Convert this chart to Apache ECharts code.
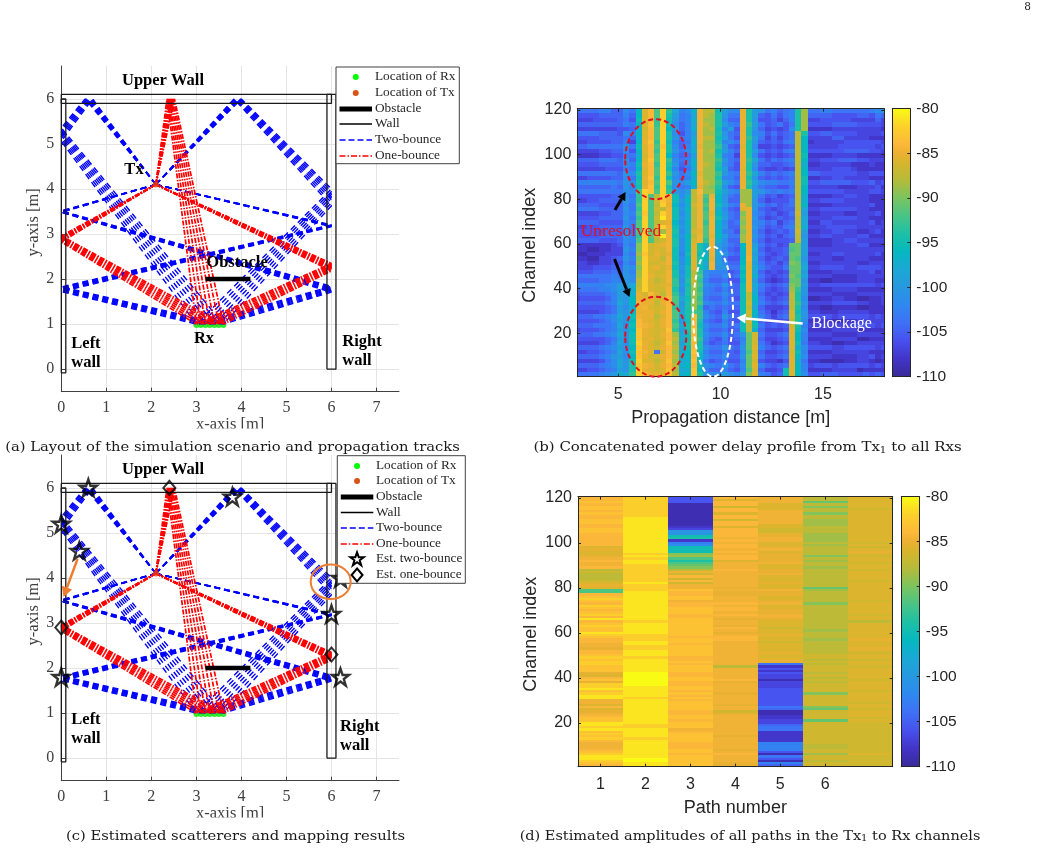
<!DOCTYPE html>
<html>
<head>
<meta charset="utf-8">
<title>Radio map of an indoor scenario</title>
<script src="https://cdn.jsdelivr.net/npm/echarts@6/dist/echarts.min.js"></script>
<style>html,body{margin:0;padding:0;background:#fff}#chart{width:1038px;height:852px}</style>
</head>
<body>
<div id="chart"></div>
<script>
// ---- Room geometry (metres) ----
const txPoint = [2.1, 4.1];
const rxX = [3.0, 3.1, 3.2, 3.3, 3.4, 3.5, 3.6];
const rxY = 1.0;
const upperWall = [[0, 5.9], [6, 5.9], [6, 6.1], [0, 6.1], [0, 5.9]];
const leftWall = [[0, 6], [0.1, 6], [0.1, -0.08], [0, -0.08], [0, 6]];
const rightWall = [[5.9, 0], [6.1, 0], [6.1, 6.1], [5.9, 6.1], [5.9, 0]];
const obstacle = [[3.2, 2], [4.2, 2]];

// ---- Reflection points for each Rx position ----
const oneBounceLeftY = [2.824, 2.848, 2.872, 2.894, 2.916, 2.938, 2.958];
const oneBounceRightY = [2.348, 2.322, 2.296, 2.268, 2.240, 2.211, 2.181];
const oneBounceTopX = [2.348, 2.375, 2.403, 2.430, 2.458, 2.486, 2.513];
const leftRightFirstY = [3.514, 3.508, 3.503, 3.497, 3.492, 3.486, 3.480];
const leftRightSecondY = [1.838, 1.817, 1.796, 1.775, 1.753, 1.731, 1.709];
const rightLeftFirstY = [3.163, 3.170, 3.177, 3.184, 3.190, 3.196, 3.204];
const rightLeftSecondY = [1.721, 1.739, 1.757, 1.775, 1.792, 1.810, 1.827];
const topLeftFirstX = [0.695, 0.668, 0.640, 0.613, 0.585, 0.558, 0.530];
const topLeftSecondY = [5.059, 5.113, 5.166, 5.217, 5.265, 5.312, 5.358];
const topRightFirstX = [4.000, 3.973, 3.945, 3.918, 3.890, 3.863, 3.835];
const topRightSecondY = [4.000, 3.943, 3.884, 3.823, 3.760, 3.695, 3.629];

// ---- Estimated scatterers ----
const estTwoBounce = [[0.6, 6], [3.8, 5.8], [0, 5.2], [0.4, 4.6], [6.2, 4.0], [6, 3.2], [0, 1.8], [6.2, 1.8]];
const estOneBounce = [[2.4, 6], [0, 2.9], [6, 2.3]];

// ---- Power levels: one character per cell, base 36, 0 = -110 dB ... u = -80 dB ----
// Power delay profile, top line = channels 120/119, columns 3 m to 18 m every 0.3 m.
const pdpLevelRows = [
"6666775586 dnqhsgb78cplle a88ofa967567fk 6677666666789",
"4444555575 dnqhsfa67bplkf 966ofa546467fk 5555444455465",
"3334444564 enqgse967cpkkf 855of9445357fk 3344444333353",
"5555555576 dnrgse857bplkf a76oga645646fk 4444555544443",
"3333333445 cmqhsd957cpkle 7a4of9534348fk 2222333333332",
"6666555487 dnqhsf847apkkf 965of8746456lf 4455444433334",
"4444555565 cnqhsf967bplle a64oga635356ld 3333553333222",
"3344445573 dorgse756cpkkf 786of9545467ld 2333334444443",
"5566666696 enqhrf857bokkg 954nf8334345ld 3333344444434",
"3333445584 dnqgsf968cpkle a75ofa645467ld 4444445555443",
"2222334476 cmqhsd756apkkf 763of8434345le 2222333322222",
"5555666595 dnrhsg867cpkkg 965ogb646567ld 3344455544333",
"4444555587 eoqgsf957cplkf 864of9554456lc 2233333222322",
"3333344476 dnqhse746bpkke a54nf8433434ld 3333444322222",
"6666666598 fnqhsg968dokkg 976ogb756567ld 5544444433444",
"3344445586 eorgse867cpkkf 775of9545456le 2233443333222",
"7777777698 fnqhsh98adplkg a86ogb877667le 4455555444534",
"5555556597 eorgsf867cokjf 854of9655446ld 3333322233342",
"6666666688 hsrhsg98alqkke a87kka976767ld 4444443333443",
"4444445586 gshlspe8clphod 965kka645345lc 2222334433222",
"3344555597 gshmrpe9dlpgpd 955kk9534446lc 3344443333222",
"5555444586 hshlsod8cmphpe a76ok9756456ld 2222333333422",
"6666555596 gshmlpe9dlpgpc 854no9543455lb 3344444433222",
"3333445587 hrhlspe8clphod 965jo8645346ma 2233332233342",
"4444555596 gshmtpe9clphpe a65ko9534545lb 3333444433222",
"5555444487 hshlnod8dlpgpd 856jo8756356lb 2244333333423",
"3344555596 hshmspe9clphpc 955ko9645467lc 3334444433333",
"4444455586 hrilkpf8cmohpd 764jo8534546ma 2233443322342",
"4444555597 gsimtpe9dlphod a66ko9645356l9 3344333344222",
"5555444587 hshlmpf8dmpgpc 855ko8534445la 2222334433333",
"2222223486 jsmnopf8dnfcpa 865doa64534iia 2222333344222",
"2211223397 jsmnmpe8dnfcpa 754dob53445hia 3333333333333",
"1122233386 krmomoe7enecpb 965coa64345iia 2233443333342",
"2211334597 jsnnlpe8dnfdoa 644dpb53454ih9 3333223333222",
"3322334486 ksmmnpf8dnfbpa 855doa64535jia 2233333322333",
"3334445598 jsnomoe9enecp9 966enb75446iib 3344443344443",
"4445556597 ksnmmpf8elg877 745dob53434iia 2222333333423",
"6666667698 ksomnpf9elh866 856eoc64345jhb 3333222233333",
"5555667798 lsnlmpg8fmg755 644doa53234ii9 2211222233322",
"7777788a9b lsnmnog9elh876 965eob75456jia 3344444444434",
"5666778a9c msnmmpf8fkg765 755eob64345kg9 2222333322222",
"4555567a9c omqnlpg9fkh766 865elc53434lf9 3333222233333",
"3444457a9d onomnqhbekg655 754eld64345lf8 1122332211223",
"5555567b9d pooloqh9fkh876 866emc75456lg9 3333444433223",
"4444456a8c opnmnqgafkf565 655elb53334lf8 2211222211222",
"3333456a9d ooomoqhbfhg754 744emd64245me9 3322233333222",
"5556678b9e poolnqhafqg865 965elc75356mf9 4444344444343",
"4444568a9d qonmoqg9eqf654 754emd53434lf8 2222112233333",
"5556667b8e qpomoqhbfqe866 856ele64545mf7 3333333344434",
"3444567a9d ronmnrgafrf755 645elc53334ne8 2222333312222",
"5556678b9e ronmoqkbeqf866 8569im64456nd7 3333222233333",
"4444456a9e rnomnqlcerg754 7457im53345nd7 2222333311222",
"3333457b8e sonlnrkafqf645 6448im64234ne6 3322112233333",
"5555678a9d ronmoqlbeqf866 9659in75456nc8 4444334444434",
"3344567b8e rpn6mqkcdre755 7548hm53345me7 2222333333222",
"5555679a8d rommoqlcdqd866 8559in64456nd8 3333222233423",
"3333468b9e snnlnrkbcrd645 6447im43324nc6 2211112233212",
"5555678b9f rpomoqlcdqe876 9658in75456nd7 3444344444343",
"3344567a9f sonmnrkbcrd755 7547hm5334end7 2222333312222",
"6666789cbg sqoonrlcdrf988 a879jn7645end8 4455544445454"
];
const pdpFirstDistance = 3;
const pdpDistanceStep = 0.3;

// Estimated path amplitudes, top to bottom = channel 120 to channel 1.
const path1Levels = "qqrqrrqrqq rrqqrrqqqq qqnonnopqp pqlmlllmno nhhqrsrqsr qrsqtqrsrr tsrqqppoqq rsrssrrron qrosstrstt ppnqnopqrr ttstrsrsqp ppqrsttsrq";
const path2Levels = "ssssssssst tttttttttt tttttststt ssssssssts sstttttttt tttttstttt tsssttsstt tsttttttuu uuuuttttts tttttttttt tssttttstt ttttttuutt";
const path3Levels = "4441111111 1112399ef2 78eeejkhfh ijlpmqmqmp prqqrrpqqr rrqqrrrrrr rrqrrqrrrr rqqrqrrrqq rrqqrrqrqr qrrrrqqrrq rrrpqrrrrq qqrrqrrrrr";
const path4Levels = "qnqqmqqnqq mqqnqqqqpq pqqpqpqqnp ppqppppppp opoopppqpq qpqpoppoqp opqqpppppp ppppplpppp pqoppppopp ppoppmoppp ppppppoppp ppopqpppoo";
const path5Levels = "pppnnnpppp ppnnmmoopp nnopnoooop nnoopnnnon npoonnopnn oopponnnmn nonnmnnnno nnoo624243 3133344444 4446511223 3566222227 7774164175";
const path6Levels = "lliljlljll kkklllkkkk lklllljlkl lkllllllll ikllllljll lllllllllk lllkllllll mmlmlmmmlm lmlmmmmjmm mmmjimmmmi mmmmmmmmmm llmmkmmlmm";
const path7Levels = "nnnnnmnnnn nnnnnnnnnn mnmnonmnnm nnmnnnnmnn nnnnnnmnnn nnmnnlnnnn nnnonnnonm nnmnnmnnnn nmnnnnmnnn nmnnmnnnmn mmmmmmmmmm mmmmnmmmmm";
const pathLevelColumns = [path1Levels, path2Levels, path3Levels, path4Levels, path5Levels, path6Levels, path7Levels];

// ---- Colour scale and fonts ----
const parulaStops = [
  [0, '#3a2a98'], [0.067, '#4234c8'], [0.133, '#4850ee'], [0.2, '#3f70f6'], [0.267, '#2f88f0'],
  [0.333, '#2798e0'], [0.4, '#1ba8d5'], [0.467, '#05b8c0'], [0.533, '#1cc0a6'], [0.6, '#49c487'],
  [0.667, '#7ac45f'], [0.733, '#b5bb3a'], [0.8, '#d8b52c'], [0.833, '#ecb032'], [0.867, '#fcb83a'],
  [0.933, '#fcd02a'], [1, '#f9fb15']
];
const serif = '"Liberation Serif"';
const sans = '"Liberation Sans"';
const captionFont = '"DejaVu Serif"';

const toDb = ch => parseInt(ch, 36) - 110;
const pdpCells = [];
pdpLevelRows.forEach((line, j) => {
  line.replace(/ /g, '').split('').forEach((ch, k) => {
    pdpCells.push([pdpFirstDistance + k * pdpDistanceStep, 119.5 - 2 * j, toDb(ch)]);
  });
});
const pathCells = [];
pathLevelColumns.forEach((column, c) => {
  column.replace(/ /g, '').split('').forEach((ch, i) => {
    pathCells.push([c + 1, 120 - i, toDb(ch)]);
  });
});

const cellRenderer = (halfW, halfH) => (params, api) => {
  const x = api.value(0), y = api.value(1);
  const a = api.coord([x - halfW, y + halfH]);
  const b = api.coord([x + halfW, y - halfH]);
  const cs = params.coordSys;
  const left = Math.max(Math.round(a[0]), cs.x), right = Math.min(Math.round(b[0]), cs.x + cs.width);
  const top = Math.max(Math.round(a[1]), cs.y), bottom = Math.min(Math.round(b[1]), cs.y + cs.height);
  return {
    type: 'rect',
    shape: { x: left, y: top, width: right - left, height: bottom - top },
    style: { fill: api.visual('color') }
  };
};
const colorBarRenderer = (params, api) => {
  const top = api.coord([0, -80]), bottom = api.coord([1, -110]);
  return {
    type: 'rect',
    shape: { x: top[0], y: top[1], width: bottom[0] - top[0], height: bottom[1] - top[1] },
    style: {
      fill: new echarts.graphic.LinearGradient(0, 1, 0, 0,
        parulaStops.map(s => ({ offset: s[0], color: s[1] })))
    }
  };
};

const grids = [], xAxes = [], yAxes = [], series = [], graphics = [];

// ---- Floor-plan panels ----
function addPlanPanel(top, bottom, yExtentMax) {
  const g = grids.length;
  grids.push({ left: 61.3, width: 337.7, top, height: bottom - top });
  const labelStyle = { color: '#404040', fontFamily: serif, fontSize: 16 };
  const line = { show: true, onZero: false, lineStyle: { color: '#404040', width: 1 } };
  const split = { show: true, lineStyle: { color: '#e4e4e4', width: 1 } };
  const xTicks = [0, 1, 2, 3, 4, 5, 6, 7], yTicks = [0, 1, 2, 3, 4, 5, 6];
  const xi = xAxes.length, yi = yAxes.length;
  xAxes.push({
    gridIndex: g, type: 'value', min: 0, max: 7.5, position: 'bottom',
    name: 'x-axis [m]', nameLocation: 'middle', nameGap: 23,
    nameTextStyle: { color: '#404040', fontFamily: serif, fontSize: 16.5 },
    axisLine: line, splitLine: split,
    axisTick: { show: true, inside: true, length: 4, customValues: xTicks, lineStyle: { color: '#404040' } },
    axisLabel: Object.assign({ customValues: xTicks, margin: 8 }, labelStyle)
  });
  yAxes.push({
    gridIndex: g, type: 'value', min: -0.5, max: yExtentMax, position: 'left',
    name: 'y-axis [m]', nameLocation: 'middle', nameGap: 16,
    nameTextStyle: { color: '#404040', fontFamily: serif, fontSize: 16.5, padding: [0, 0, 0, 13] },
    axisLine: line, splitLine: split,
    axisTick: { show: true, inside: true, length: 4, customValues: yTicks, lineStyle: { color: '#404040' } },
    axisLabel: Object.assign({ customValues: yTicks, margin: 7 }, labelStyle)
  });
  return { xi, yi };
}

function addPlanSeries(ax) {
  const base = { xAxisIndex: ax.xi, yAxisIndex: ax.yi, animation: false, silent: true };
  const path = (pts, kind) => series.push(Object.assign({
    type: 'line', data: pts, showSymbol: false, symbol: 'none', z: kind === 'one' ? 4 : 3,
    lineStyle: kind === 'one'
      ? { color: '#ff0000', width: 1.7, type: [5, 1.5, 1.5, 1.5] }
      : { color: '#0000ff', width: 1.4, type: [6, 4] }
  }, base));
  rxX.forEach((x, i) => {
    const rx = [x, rxY];
    path([txPoint, [topLeftFirstX[i], 6], [0, topLeftSecondY[i]], rx], 'two');
    path([txPoint, [topRightFirstX[i], 6], [6, topRightSecondY[i]], rx], 'two');
    path([txPoint, [0, leftRightFirstY[i]], [6, leftRightSecondY[i]], rx], 'two');
    path([txPoint, [6, rightLeftFirstY[i]], [0, rightLeftSecondY[i]], rx], 'two');
  });
  rxX.forEach((x, i) => {
    const rx = [x, rxY];
    path([txPoint, [0, oneBounceLeftY[i]], rx], 'one');
    path([txPoint, [6, oneBounceRightY[i]], rx], 'one');
    path([txPoint, [oneBounceTopX[i], 6], rx], 'one');
  });
  [upperWall, leftWall, rightWall].forEach(w => series.push(Object.assign({
    type: 'line', data: w, showSymbol: false, symbol: 'none', z: 5,
    lineStyle: { color: '#1a1a1a', width: 1.3 }
  }, base)));
  series.push(Object.assign({
    type: 'line', data: obstacle, showSymbol: false, symbol: 'none', z: 5,
    lineStyle: { color: '#000', width: 4.5, cap: 'butt' }
  }, base));
  series.push(Object.assign({
    type: 'scatter', data: rxX.map(x => [x, rxY - 0.02]), symbol: 'circle', symbolSize: 6, z: 2,
    itemStyle: { color: '#00e600' }
  }, base));
  series.push(Object.assign({
    type: 'scatter', data: [txPoint], symbol: 'circle', symbolSize: 6, z: 6,
    itemStyle: { color: '#e03c14' }
  }, base));
  return base;
}

const STAR_PATH = 'path://M50 2 L62 37 L98 37 L69 59 L80 95 L50 73 L20 95 L31 59 L2 37 L38 37 Z';

const panelA = addPlanPanel(66, 391.7, 6.73);
addPlanSeries(panelA);
const panelC = addPlanPanel(455, 780.7, 6.73);
const baseC = addPlanSeries(panelC);
series.push(Object.assign({
  type: 'scatter', data: estTwoBounce, symbol: STAR_PATH, symbolSize: 17, z: 7,
  itemStyle: { color: 'rgba(0,0,0,0)', borderColor: '#000', borderWidth: 2.4 }
}, baseC));
series.push(Object.assign({
  type: 'scatter', data: estOneBounce, symbol: 'diamond', symbolSize: [12, 14], z: 7,
  itemStyle: { color: 'rgba(0,0,0,0)', borderColor: '#000', borderWidth: 2 }
}, baseC));

// ---- Heat-map panels with their colour bars ----
function framedAxes(g, xr, yr, xTicks, yTicks, xName, yName, nameGaps) {
  const inkLine = { show: true, onZero: false, lineStyle: { color: '#262626', width: 1 } };
  const tick = (vals, len) => ({ show: true, inside: true, length: len, customValues: vals, lineStyle: { color: '#262626' } });
  const text = { color: '#262626', fontFamily: sans, fontSize: 16 };
  const xi = xAxes.length, yi = yAxes.length;
  xAxes.push({
    gridIndex: g, type: 'value', min: xr[0], max: xr[1], position: 'bottom', z: 10,
    name: xName, nameLocation: 'middle', nameGap: nameGaps[0],
    nameTextStyle: { color: '#262626', fontFamily: sans, fontSize: 18 },
    axisLine: inkLine, axisTick: tick(xTicks, 3), splitLine: { show: false },
    axisLabel: Object.assign({ customValues: xTicks, margin: 10 }, text)
  });
  xAxes.push({
    gridIndex: g, type: 'value', min: xr[0], max: xr[1], position: 'top', z: 10,
    axisLine: inkLine, axisTick: tick(xTicks, 3), splitLine: { show: false }, axisLabel: { show: false }
  });
  yAxes.push({
    gridIndex: g, type: 'value', min: yr[0], max: yr[1], position: 'left', z: 10,
    name: yName, nameLocation: 'middle', nameGap: nameGaps[1],
    nameTextStyle: { color: '#262626', fontFamily: sans, fontSize: 18, padding: [0, 5, 0, 0] },
    axisLine: inkLine, axisTick: tick(yTicks, 3), splitLine: { show: false },
    axisLabel: Object.assign({ customValues: yTicks, margin: 6 }, text)
  });
  yAxes.push({
    gridIndex: g, type: 'value', min: yr[0], max: yr[1], position: 'right', z: 10,
    axisLine: inkLine, axisTick: tick(yTicks, 3), splitLine: { show: false }, axisLabel: { show: false }
  });
  return { xi, yi };
}

function addColorBar(left, width, top, height) {
  const g = grids.length;
  grids.push({ left, width, top, height });
  const inkLine = { show: true, onZero: false, lineStyle: { color: '#262626', width: 1 } };
  const xi = xAxes.length, yi = yAxes.length;
  xAxes.push({
    gridIndex: g, type: 'value', min: 0, max: 1, position: 'bottom', z: 10,
    axisLine: inkLine, axisTick: { show: false }, axisLabel: { show: false }, splitLine: { show: false }
  });
  xAxes.push({
    gridIndex: g, type: 'value', min: 0, max: 1, position: 'top', z: 10,
    axisLine: inkLine, axisTick: { show: false }, axisLabel: { show: false }, splitLine: { show: false }
  });
  yAxes.push({
    gridIndex: g, type: 'value', min: -110, max: -80, interval: 5, position: 'right', z: 10,
    axisLine: inkLine, splitLine: { show: false },
    axisTick: { show: true, inside: true, length: 3, lineStyle: { color: '#262626' } },
    axisLabel: { color: '#262626', fontFamily: sans, fontSize: 15.5, margin: 6 }
  });
  yAxes.push({
    gridIndex: g, type: 'value', min: -110, max: -80, interval: 5, position: 'left', z: 10,
    axisLine: inkLine, splitLine: { show: false },
    axisTick: { show: false },
    axisLabel: { show: false }
  });
  series.push({
    type: 'custom', xAxisIndex: xi, yAxisIndex: yi, data: [[0, -110]], animation: false, silent: true,
    renderItem: colorBarRenderer, encode: { x: 0, y: 1 }
  });
}

const heatSeries = [];
grids.push({ left: 577.3, width: 307, top: 108.7, height: 268 });
const axB = framedAxes(grids.length - 1, [3, 18], [0.5, 120.5], [5, 10, 15], [20, 40, 60, 80, 100, 120],
  'Propagation distance [m]', 'Channel index', [32, 38]);
heatSeries.push(series.length);
series.push({
  type: 'custom', xAxisIndex: axB.xi, yAxisIndex: axB.yi, data: pdpCells, animation: false, silent: true,
  renderItem: cellRenderer(pdpDistanceStep / 2, 1), encode: { x: 0, y: 1 }, z: 2
});
addColorBar(892.3, 18, 108.7, 268);

grids.push({ left: 578, width: 314.7, top: 496.7, height: 270 });
const axD = framedAxes(grids.length - 1, [0.5, 7.5], [0.5, 120.5], [1, 2, 3, 4, 5, 6], [20, 40, 60, 80, 100, 120],
  'Path number', 'Channel index', [32, 38]);
heatSeries.push(series.length);
series.push({
  type: 'custom', xAxisIndex: axD.xi, yAxisIndex: axD.yi, data: pathCells, animation: false, silent: true,
  renderItem: cellRenderer(0.5, 0.5), encode: { x: 0, y: 1 }, z: 2
});
addColorBar(901.3, 18.4, 496.7, 270);

// ---- Drawing helpers for annotations, keys and captions ----
const G_Z = 60;
function label(text, x, y, font, fill, extra, scaleX) {
  graphics.push({
    type: 'text', x, y, z: G_Z + 3, silent: true, scaleX: scaleX || 1,
    style: Object.assign({ text, font, fill: fill || '#000', align: 'center', verticalAlign: 'middle' }, extra || {})
  });
}
function ellipse(cx, cy, rx, ry, stroke, dash) {
  graphics.push({
    type: 'ellipse', z: G_Z + 1, silent: true, shape: { cx, cy, rx, ry },
    style: { fill: 'none', stroke, lineWidth: 2, lineDash: dash || null }
  });
}
function arrow(x1, y1, x2, y2, color, width, head) {
  const len = Math.hypot(x2 - x1, y2 - y1), ux = (x2 - x1) / len, uy = (y2 - y1) / len;
  const bx = x2 - ux * head, by = y2 - uy * head, nx = -uy * head * 0.55, ny = ux * head * 0.55;
  graphics.push({
    type: 'line', z: G_Z + 1, silent: true, shape: { x1, y1, x2: bx, y2: by },
    style: { stroke: color, lineWidth: width }
  });
  graphics.push({
    type: 'polygon', z: G_Z + 1, silent: true,
    shape: { points: [[x2, y2], [bx + nx, by + ny], [bx - nx, by - ny]] }, style: { fill: color }
  });
}

const boldLabel = 'bold 16.5px ' + serif;
const leftAlign = { align: 'left' };
function wallLabels(yUpper, xLeft, yLeft, xRight, yRight) {
  label('Upper Wall', 163, yUpper, boldLabel);
  label('Left', xLeft, yLeft, boldLabel, '#000', leftAlign);
  label('wall', xLeft, yLeft + 19.3, boldLabel, '#000', leftAlign);
  label('Right', xRight, yRight, boldLabel, '#000', leftAlign);
  label('wall', xRight, yRight + 19, boldLabel, '#000', leftAlign);
}
wallLabels(81, 71.3, 343.7, 342.3, 342);
label('Tx', 134, 170, boldLabel);
label('Obstacle', 237, 262.5, boldLabel);
label('Rx', 204, 339, boldLabel);
wallLabels(470, 71.3, 719.3, 340, 726.7);

function planKey(left, top, right, bottom, textX, rows) {
  graphics.push({
    type: 'rect', z: G_Z, silent: true,
    shape: { x: left, y: top, width: right - left, height: bottom - top },
    style: { fill: '#fff', stroke: '#404040', lineWidth: 1 }
  });
  const keyFont = '13.3px ' + serif;
  const x0 = left + 3.5, x1 = left + 36, xm = (x0 + x1) / 2;
  rows.forEach(([name, y, kind]) => {
    graphics.push({
      type: 'text', x: textX, y, z: G_Z + 2, silent: true,
      style: { text: name, font: keyFont, fill: '#262626', align: 'left', verticalAlign: 'middle' }
    });
    const lineKey = (stroke, lineWidth, lineDash) => graphics.push({
      type: 'line', z: G_Z + 2, silent: true, shape: { x1: x0, y1: y, x2: x1, y2: y },
      style: { stroke, lineWidth, lineDash: lineDash || null }
    });
    if (kind === 'rx' || kind === 'tx') {
      graphics.push({
        type: 'circle', z: G_Z + 2, silent: true, shape: { cx: xm, cy: y, r: 3 },
        style: { fill: kind === 'rx' ? '#00ff00' : '#d95319' }
      });
    } else if (kind === 'obstacle') lineKey('#000', 5);
    else if (kind === 'wall') lineKey('#000', 1.3);
    else if (kind === 'two') lineKey('#0000ff', 1.3, [6, 3]);
    else if (kind === 'one') lineKey('#ff0000', 1.3, [6, 2, 1.5, 2]);
    else if (kind === 'star') {
      const s = 0.14, tl = [xm - 50 * s, y - 50 * s];
      const pts = [[50, 2], [62, 37], [98, 37], [69, 59], [80, 95], [50, 73], [20, 95], [31, 59], [2, 37], [38, 37]];
      graphics.push({
        type: 'polygon', z: G_Z + 2, silent: true,
        shape: { points: pts.map(p => [tl[0] + p[0] * s, tl[1] + p[1] * s]) },
        style: { fill: 'none', stroke: '#000', lineWidth: 2 }
      });
    } else if (kind === 'diamond') {
      graphics.push({
        type: 'polygon', z: G_Z + 2, silent: true,
        shape: { points: [[xm, y - 6.5], [xm + 5.5, y], [xm, y + 6.5], [xm - 5.5, y]] },
        style: { fill: 'none', stroke: '#000', lineWidth: 2 }
      });
    }
  });
}
planKey(336, 67, 459.3, 163.7, 375, [
  ['Location of Rx', 77, 'rx'], ['Location of Tx', 93, 'tx'], ['Obstacle', 109, 'obstacle'],
  ['Wall', 124, 'wall'], ['Two-bounce', 140, 'two'], ['One-bounce', 156, 'one']
]);
planKey(337.3, 455.7, 465.3, 583.3, 376, [
  ['Location of Rx', 466, 'rx'], ['Location of Tx', 481, 'tx'], ['Obstacle', 497, 'obstacle'],
  ['Wall', 512.5, 'wall'], ['Two-bounce', 528, 'two'], ['One-bounce', 544, 'one'],
  ['Est. two-bounce', 559, 'star'], ['Est. one-bounce', 575, 'diamond']
]);

// Orange call-outs on the estimated map
arrow(77.5, 559, 63.5, 597, '#ed7d31', 2.5, 10);
ellipse(330.7, 581.7, 20, 17.3, '#ed7d31');

// Notes on the power delay profile
ellipse(655.7, 159.2, 30.5, 40, '#e01020', [5, 3]);
ellipse(655.7, 336.7, 30.5, 40, '#e01020', [5, 3]);
ellipse(713, 311.7, 20, 65, '#ffffff', [5, 3]);
arrow(615, 210, 625.5, 192, '#000', 3, 8);
arrow(614.5, 259, 629.5, 297, '#000', 3, 8);
arrow(802.7, 323.5, 736.7, 317.7, '#fff', 2.5, 9);
label('Unresolved', 621, 231, '17.5px ' + serif, '#e01020');
label('Blockage', 841.7, 324, '16px ' + serif, '#fff');

// Axis-name descenders stop at the caption strip below each floor plan
[[428.6], [817.6]].forEach(([y]) => graphics.push({
  type: 'rect', z: G_Z + 2, silent: true, shape: { x: 180, y, width: 85, height: 6 }, style: { fill: '#fff' }
}));

// Sub-figure captions and page number
const capFont = '13px ' + captionFont;
const capStyle = { rich: { sub: { font: '9px ' + captionFont, verticalAlign: 'bottom', padding: [5, 0, 0, 0], fill: '#1a1a1a' } } };
label('(a) Layout of the simulation scenario and propagation tracks', 232.5, 448, capFont, '#1a1a1a', null, 1.135);
label('(b) Concatenated power delay profile from Tx{sub|1} to all Rxs', 747.5, 448, capFont, '#1a1a1a', capStyle, 1.15);
label('(c) Estimated scatterers and mapping results', 235.5, 836.5, capFont, '#1a1a1a', null, 1.135);
label('(d) Estimated amplitudes of all paths in the Tx{sub|1} to Rx channels', 750, 836.5, capFont, '#1a1a1a', capStyle, 1.115);
label('8', 1027.5, 7, '10.5px ' + captionFont, '#1a1a1a');

const chart = echarts.init(document.getElementById('chart'), null, { renderer: 'canvas' });
chart.setOption({
  animation: false,
  backgroundColor: '#ffffff',
  grid: grids,
  xAxis: xAxes,
  yAxis: yAxes,
  visualMap: {
    show: false, type: 'continuous', min: -110, max: -80, dimension: 2, seriesIndex: heatSeries,
    inRange: { color: parulaStops.map(s => s[1]) }
  },
  series,
  graphic: { elements: graphics }
});
</script>
</body>
</html>
